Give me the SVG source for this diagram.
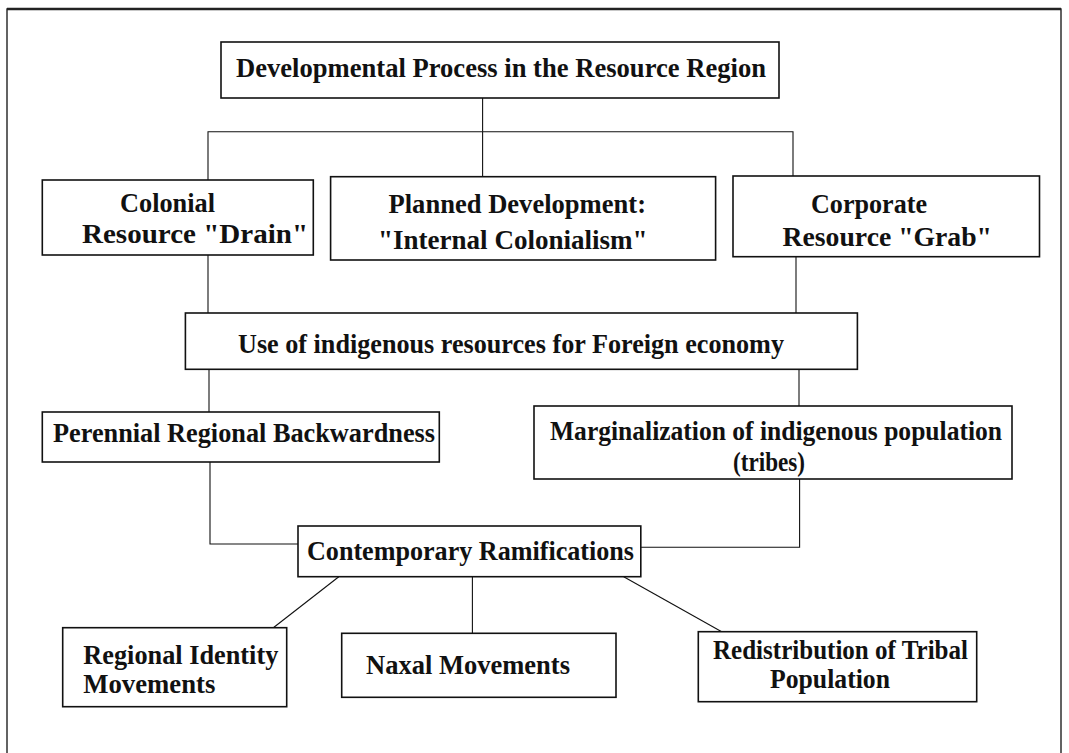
<svg xmlns="http://www.w3.org/2000/svg" width="1069" height="753" viewBox="0 0 1069 753">
<style>
.box{fill:#fff;stroke:#111;stroke-width:1.6}
.ln{fill:none;stroke:#111;stroke-width:1.1}
.frame{fill:#fff;stroke:#222;stroke-width:1.4}
text{font-family:"Liberation Serif","Times New Roman",serif;font-weight:bold;font-size:28px;fill:#111}
</style>
<rect x="0" y="0" width="1069" height="753" fill="#fff"/>
<rect class="frame" x="7" y="9" width="1054" height="760"/>
<line x1="7" y1="9" x2="1061" y2="9" stroke="#222" stroke-width="2.5"/>
<g id="connectors">
<path class="ln" d="M482.6,98 V131.7"/>
<path class="ln" d="M208,180 V131.7 H793 V176"/>
<path class="ln" d="M482.6,131.7 V176.7"/>
<path class="ln" d="M208,255 V313"/>
<path class="ln" d="M796,257 V313"/>
<path class="ln" d="M209,369.3 V412"/>
<path class="ln" d="M799,369.3 V406"/>
<path class="ln" d="M210,462 V544 H298"/>
<path class="ln" d="M641,547.3 H799.6 V479"/>
<path class="ln" d="M338.8,576.7 L273,628"/>
<path class="ln" d="M472.4,576.7 V633"/>
<path class="ln" d="M623.7,576.7 L721.7,631.7"/>
</g>
<g id="title">
<rect class="box" x="221" y="42" width="558" height="56"/>
<text x="236" y="77" textLength="530" lengthAdjust="spacingAndGlyphs">Developmental Process in the Resource Region</text>
</g>
<g id="colonial">
<rect class="box" x="42.3" y="180" width="271" height="75"/>
<text x="120" y="211.7" textLength="95" lengthAdjust="spacingAndGlyphs">Colonial</text>
<text x="82" y="243.3" textLength="226" lengthAdjust="spacingAndGlyphs">Resource  "Drain"</text>
</g>
<g id="planned">
<rect class="box" x="330.6" y="176.7" width="385" height="83.3"/>
<text x="388.5" y="213" textLength="257.5" lengthAdjust="spacingAndGlyphs">Planned Development:</text>
<text x="378" y="249" textLength="269.6" lengthAdjust="spacingAndGlyphs">"Internal Colonialism"</text>
</g>
<g id="corporate">
<rect class="box" x="733" y="176" width="306.5" height="80.7"/>
<text x="811" y="213" textLength="116" lengthAdjust="spacingAndGlyphs">Corporate</text>
<text x="782.5" y="246" textLength="209.5" lengthAdjust="spacingAndGlyphs">Resource "Grab"</text>
</g>
<g id="use">
<rect class="box" x="185.4" y="313" width="672" height="56.3"/>
<text x="238" y="353" textLength="546" lengthAdjust="spacingAndGlyphs">Use of indigenous resources for Foreign economy</text>
</g>
<g id="perennial">
<rect class="box" x="42.3" y="412" width="397" height="50"/>
<text x="53" y="441.5" textLength="382" lengthAdjust="spacingAndGlyphs">Perennial Regional Backwardness</text>
</g>
<g id="marginalization">
<rect class="box" x="534" y="406" width="478" height="73"/>
<text x="550" y="440" textLength="452" lengthAdjust="spacingAndGlyphs">Marginalization of indigenous population</text>
<text x="733" y="471" textLength="72" lengthAdjust="spacingAndGlyphs">(tribes)</text>
</g>
<g id="contemporary">
<rect class="box" x="298" y="526" width="342.8" height="50.7"/>
<text x="307" y="560" textLength="327" lengthAdjust="spacingAndGlyphs">Contemporary Ramifications</text>
</g>
<g id="regional">
<rect class="box" x="62.7" y="627.7" width="224" height="79"/>
<text x="83.3" y="664" textLength="195" lengthAdjust="spacingAndGlyphs">Regional Identity</text>
<text x="83.3" y="693" textLength="132" lengthAdjust="spacingAndGlyphs">Movements</text>
</g>
<g id="naxal">
<rect class="box" x="341.7" y="633.3" width="274.3" height="64"/>
<text x="366" y="674" textLength="204" lengthAdjust="spacingAndGlyphs">Naxal Movements</text>
</g>
<g id="redistribution">
<rect class="box" x="698.3" y="631.7" width="278.4" height="70"/>
<text x="713" y="659.3" textLength="255" lengthAdjust="spacingAndGlyphs">Redistribution of Tribal</text>
<text x="770" y="688.3" textLength="120" lengthAdjust="spacingAndGlyphs">Population</text>
</g>
</svg>
